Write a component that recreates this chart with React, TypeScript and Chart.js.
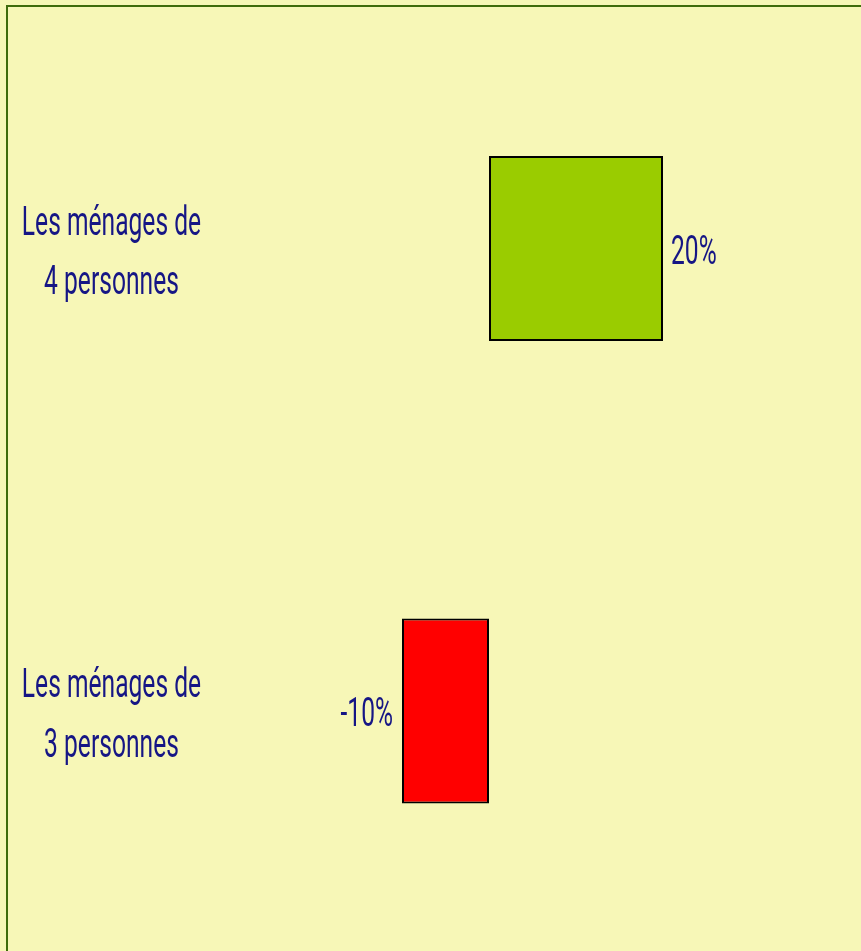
import React, { useEffect, useRef } from "react";
import { Chart, registerables } from "chart.js";

Chart.register(...registerables);

const categoryLines: string[][] = [
  ["Les ménages de", "4 personnes"],
  ["Les ménages de", "3 personnes"],
];
const values: number[] = [20, -10];
const valueLabels: string[] = ["20%", "-10%"];
const barColors: string[] = ["#9ACC00", "#FF0000"];
const xMin = -30;
const xMax = 30;

const BG = "#F7F7B7";
const FRAME = "#3F6C0C";
const TEXT = "#161685";
const FONT_FAMILY = "Roboto, 'DejaVu Sans Condensed', sans-serif";
const FONT_WEIGHT = 400;
const FONT_SIZE = 41;
const SQUEEZE = 0.6;

function drawSqueezed(ctx: CanvasRenderingContext2D, text: string, x: number, y: number, align: CanvasTextAlign) {
  ctx.save();
  ctx.translate(x, y);
  ctx.scale(SQUEEZE, 1);
  ctx.textAlign = align;
  ctx.textBaseline = "alphabetic";
  ctx.fillText(text, 0, 0);
  ctx.restore();
}

const framePlugin = {
  id: "frame",
  beforeDraw(chart: any) {
    const ctx = chart.ctx as CanvasRenderingContext2D;
    ctx.save();
    ctx.fillStyle = BG;
    ctx.fillRect(0, 0, chart.width, chart.height);
    ctx.strokeStyle = FRAME;
    ctx.lineWidth = 2;
    ctx.strokeRect(7, 6, chart.width + 50, chart.height + 50);
    ctx.restore();
  },
};

const labelPlugin = {
  id: "labels",
  afterDraw(chart: any) {
    const ctx = chart.ctx as CanvasRenderingContext2D;
    const yScale = chart.scales.y;
    const meta = chart.getDatasetMeta(0);
    ctx.save();
    ctx.fillStyle = TEXT;
    ctx.font = `${FONT_WEIGHT} ${FONT_SIZE}px ${FONT_FAMILY}`;
    categoryLines.forEach((lines, i) => {
      const cy = yScale.getPixelForValue(i);
      drawSqueezed(ctx, lines[0], 111.5, cy - 14, "center");
      drawSqueezed(ctx, lines[1], 111.5, cy + 45.5, "center");
    });
    meta.data.forEach((bar: any, i: number) => {
      const v = values[i];
      if (v >= 0) {
        drawSqueezed(ctx, valueLabels[i], bar.x + 8, bar.y + 15, "left");
      } else {
        drawSqueezed(ctx, valueLabels[i], bar.x - 9, bar.y + 15, "right");
      }
    });
    ctx.restore();
  },
};

export default function App() {
  const ref = useRef<HTMLCanvasElement | null>(null);

  useEffect(() => {
    document.body.style.margin = "0";
    document.body.style.background = BG;
    document.body.style.overflow = "hidden";
    const canvas = ref.current;
    if (!canvas) return;
    const chart = new Chart(canvas, {
      type: "bar",
      data: {
        labels: categoryLines.map((l) => l.join(" ")),
        datasets: [
          {
            data: values,
            backgroundColor: barColors,
            borderColor: "#000000",
            borderWidth: 2,
            borderSkipped: false,
            barPercentage: 0.4,
            categoryPercentage: 1,
          },
        ],
      },
      options: {
        indexAxis: "y",
        responsive: false,
        animation: false,
        devicePixelRatio: 1,
        layout: { padding: { left: 228, right: 111, top: 17.25, bottom: 8.75 } },
        plugins: { legend: { display: false }, tooltip: { enabled: false } },
        scales: {
          x: { display: false, min: xMin, max: xMax, grid: { display: false } },
          y: { display: false, grid: { display: false } },
        },
      },
      plugins: [framePlugin, labelPlugin],
    });
    return () => chart.destroy();
  }, []);

  return (
    <div style={{ position: "absolute", left: 0, top: 0, width: 861, height: 951, background: BG }}>
      <canvas ref={ref} width={861} height={951} style={{ display: "block", width: 861, height: 951 }} />
    </div>
  );
}
